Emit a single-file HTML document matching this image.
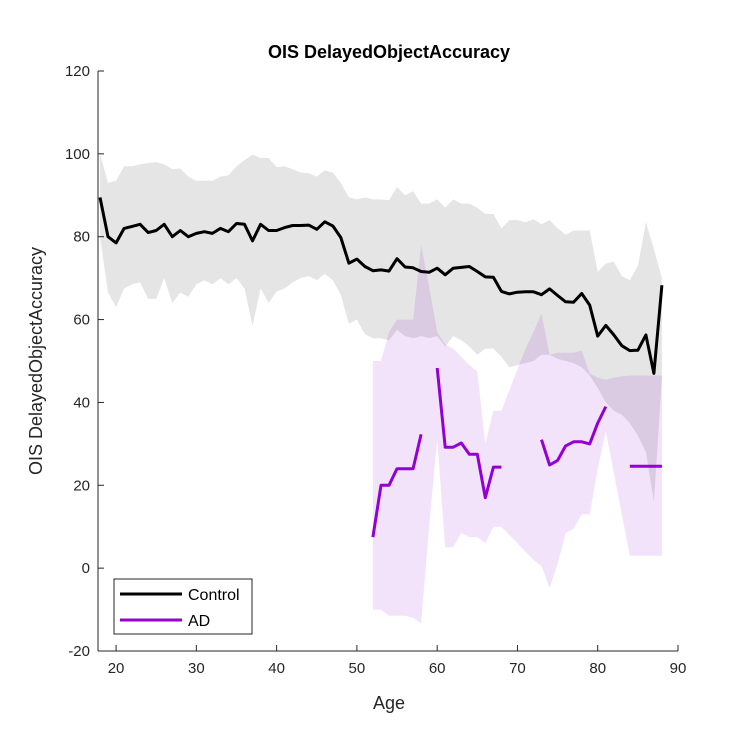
<!DOCTYPE html>
<html><head><meta charset="utf-8"><style>
body{margin:0;background:#fff;}
svg text{font-family:"Liberation Sans",sans-serif;}
</style></head><body>
<svg id="chart" width="750" height="750" viewBox="0 0 750 750" xmlns="http://www.w3.org/2000/svg">
<rect width="750" height="750" fill="#fff"/>
<g id="bands"></g>
<g id="lines"></g>
<g id="axes"></g>
<text x="389" y="58" text-anchor="middle" font-size="18" font-weight="bold" fill="#000">OIS DelayedObjectAccuracy</text>
<text x="389" y="709" text-anchor="middle" font-size="18" fill="#262626">Age</text>
<text transform="translate(42,361) rotate(-90)" text-anchor="middle" font-size="18" fill="#262626">OIS DelayedObjectAccuracy</text>
<g>
<rect x="114" y="579" width="138" height="55" fill="#fff" stroke="#262626" stroke-width="1"/>
<line x1="120" y1="594" x2="182" y2="594" stroke="#000" stroke-width="3"/>
<text x="188" y="600" font-size="16" fill="#000">Control</text>
<line x1="120" y1="620" x2="182" y2="620" stroke="#9400D3" stroke-width="3"/>
<text x="188" y="626" font-size="16" fill="#000">AD</text>
</g>
</svg>
<script>
const ctrlAges = [];
for (let a = 18; a <= 88; a++) ctrlAges.push(a);
const ctrlMean = [89.5,80,78.5,82,82.5,83,81,81.5,83,80,81.5,80,80.8,81.2,80.8,82,81.2,83.2,83,79,83,81.5,81.5,82.2,82.7,82.7,82.8,81.8,83.6,82.6,79.8,73.6,74.6,72.8,71.8,72,71.7,74.7,72.7,72.5,71.6,71.4,72.4,70.8,72.4,72.6,72.8,71.6,70.3,70.2,66.8,66.2,66.6,66.7,66.7,66,67.4,65.8,64.3,64.2,66.3,63.5,56,58.6,56.3,53.7,52.5,52.6,56.3,47,68.3];
const ctrlUpper = [100,93,93.5,97,97,97.5,97.8,98,97.5,96.3,96.5,94.5,93.5,93.5,93.5,94.5,94.8,97,98.5,99.8,99,99,96.8,97,96.3,95.5,95.3,94.5,96,95.5,93,89.5,89,89.5,89,89,88.8,92,90,91,88,88,89,87,89,88,88,87,85.5,85.5,82,84,84,83.5,84.2,83,84,82,80.5,81.5,81.5,81.5,71.5,73.5,74,70.5,69.5,73,83.5,77,70];
const ctrlLower = [80,66.5,63,67.5,68.5,69,65,65,70,64,66.5,65.5,68.5,69.5,68.5,70,68.5,70,67.5,58.5,67.5,64,66.8,67.5,69,70,70.5,69.5,71,69.5,66,59,60,56.5,55.5,55.5,55,57.5,56,55.5,56,55.5,56,53.5,56,55,53.5,51.5,53,53,51,48.5,49,49.5,50,51.5,51.5,50.5,50,49.5,48.5,46.5,43.5,40,38,37,35,32,28,16,46];
const adAges = [];
for (let a = 52; a <= 88; a++) adAges.push(a);
const adMean = [7.5,20,20,24,24,24,32.3,null,48.3,29.2,29.2,30.2,27.5,27.5,17,24.4,24.4,null,null,null,null,31,24.9,26,29.5,30.5,30.5,30,35,39,null,null,24.6,24.6,24.6,24.6,24.6];
const adUpper = [50,50,57,60,60,60,78,68,57,54,53,51,49,47.5,30,38,38,43,48,53,57,61.5,51.5,52,52,52,52.5,47,46,45.5,46,46.3,46.5,46.5,46.5,46.5,46.5];
const adLower = [-10,-10,-11.5,-11.5,-11.5,-12,-13.3,10,31,5,5,8.5,7.5,7.5,6,10,10,8,6,4,2,0.5,-4.8,1,8.5,9.5,13,13,24,33,23,13,3,3,3,3,3];
const xTicks = [20,30,40,50,60,70,80,90];
const yTicks = [-20,0,20,40,60,80,100,120];

const X0=98, X1=678, XMIN=17.75, XMAX=90, Y0=651, Y1=71, YMIN=-20, YMAX=120;
function xs(v){return X0+(v-XMIN)/(XMAX-XMIN)*(X1-X0);}
function ys(v){return Y0-(v-YMIN)/(YMAX-YMIN)*(Y0-Y1);}
const NS="http://www.w3.org/2000/svg";
function mk(tag, attrs, parent){const e=document.createElementNS(NS,tag);for(const k in attrs)e.setAttribute(k,attrs[k]);parent.appendChild(e);return e;}
function bandPath(ages, up, lo){
  let d=ages.map((a,i)=>(i?'L':'M')+xs(a).toFixed(1)+','+ys(up[i]).toFixed(1)).join(' ');
  for(let i=ages.length-1;i>=0;i--) d+=' L'+xs(ages[i]).toFixed(1)+','+ys(lo[i]).toFixed(1);
  return d+' Z';
}
function linePath(ages, vals){
  let d='', pen=false;
  ages.forEach((a,i)=>{const v=vals[i]; if(v===null){pen=false;return;} d+=(pen?' L':' M')+xs(a).toFixed(1)+','+ys(v).toFixed(1); pen=true;});
  return d;
}
const bands=document.getElementById('bands'), lines=document.getElementById('lines'), axes=document.getElementById('axes');
const cb=mk('path',{d:bandPath(ctrlAges,ctrlUpper,ctrlLower),fill:'#e5e5e5'},bands);


const ab=mk('path',{d:bandPath(adAges,adUpper,adLower),fill:'#9400D3','fill-opacity':'0.11'},bands);


const cl=mk('path',{d:linePath(ctrlAges,ctrlMean),fill:'none',stroke:'#000','stroke-width':'3','stroke-linejoin':'round'},lines);


const al=mk('path',{d:linePath(adAges,adMean),fill:'none',stroke:'#9400D3','stroke-width':'3','stroke-linejoin':'round'},lines);


const xa=mk('line',{x1:X0,y1:Y0,x2:X1,y2:Y0,stroke:'#262626','stroke-width':'1'},axes);


const ya=mk('line',{x1:X0,y1:Y0,x2:X0,y2:Y1,stroke:'#262626','stroke-width':'1'},axes);


xTicks.forEach(t=>{
  mk('line',{x1:xs(t),y1:Y0,x2:xs(t),y2:Y0-6,stroke:'#262626'},axes);
  const tx=mk('text',{x:xs(t),y:Y0+22,'text-anchor':'middle','font-size':'15',fill:'#262626'},axes);
  tx.textContent=t;
  
  
});
yTicks.forEach(t=>{
  mk('line',{x1:X0,y1:ys(t),x2:X0+6,y2:ys(t),stroke:'#262626'},axes);
  const tx=mk('text',{x:X0-8,y:ys(t)+5,'text-anchor':'end','font-size':'15',fill:'#262626'},axes);
  tx.textContent=t;
  
  
});
</script>
</body></html>
